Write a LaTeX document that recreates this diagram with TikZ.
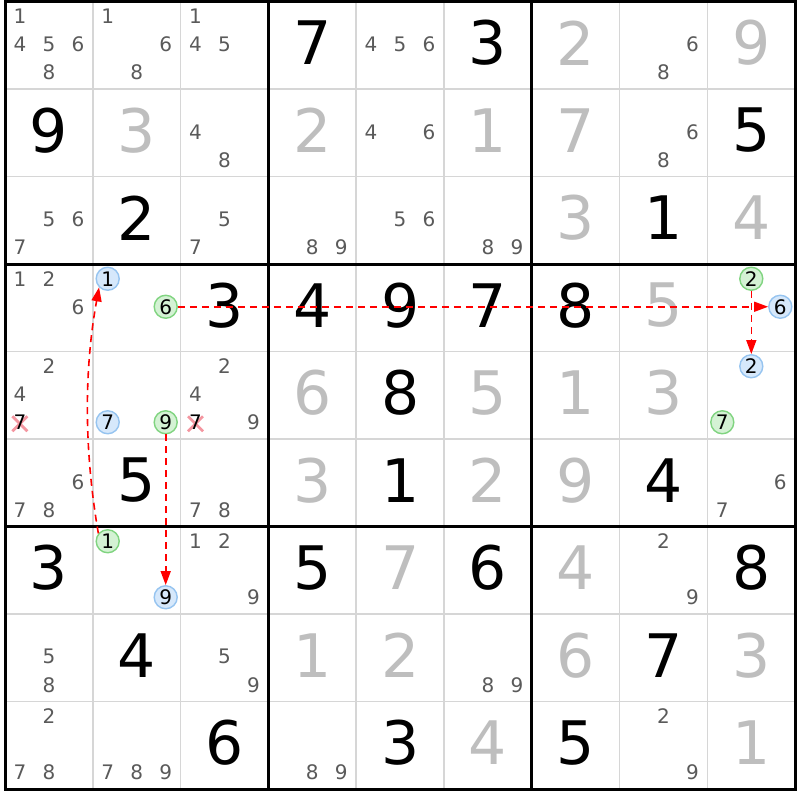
\documentclass[tikz,border=0pt]{standalone}
\usepackage{fontspec}
\setmainfont{DejaVu Sans}
\usetikzlibrary{arrows.meta}
\definecolor{candgray}{RGB}{90,90,90}
\definecolor{solgray}{RGB}{190,190,190}
\definecolor{thingrid}{RGB}{214,214,214}
\definecolor{bluefill}{RGB}{214,232,251}
\definecolor{bluedraw}{RGB}{150,196,240}
\definecolor{greenfill}{RGB}{212,242,212}
\definecolor{greendraw}{RGB}{128,212,128}
\definecolor{xred}{RGB}{244,150,160}
\definecolor{linkred}{RGB}{255,0,0}
\tikzset{
  givdig/.style={inner sep=0pt, font=\fontsize{60}{60}\selectfont, text=black},
  soldig/.style={givdig, text=solgray},
  canddig/.style={inner sep=0pt, font=\fontsize{20}{20}\selectfont, text=candgray},
  bcirc/.style={circle, draw=bluedraw, fill=bluefill, line width=1.4pt, minimum size=23pt, inner sep=0pt, font=\fontsize{20}{20}\selectfont, text=black},
  gcirc/.style={bcirc, draw=greendraw, fill=greenfill},
  link/.style={draw=linkred, line width=1.6pt, dash pattern=on 7pt off 5pt, -{Triangle[length=14pt,width=10pt,fill=linkred]}},
  xmark/.style={xred, line width=2.8pt},
  thinline/.style={thingrid, line width=1.6pt},
  thickline/.style={black, line width=3pt},
}
\newcommand\Giv[3]{\node[givdig] (g#1#2) at ({5+87.8*(#2-0.5)},{1.5+87.5*(#1-0.5)-2.5}) {#3};}
\newcommand\Sol[3]{\node[soldig] (g#1#2) at ({5+87.8*(#2-0.5)},{1.5+87.5*(#1-0.5)-2.5}) {#3};}
\newcommand\Cands[3]{\foreach \d in {#3} {\node[canddig] (c#1#2\d) at ({5+87.8*(#2-0.5)+29*(mod(\d-1,3)-1)},{1.5+87.5*(#1-0.5)-1+28*(floor((\d-1)/3)-1)}) {\d};}}
\newcommand\Circ[5]{\node[#5] (#1) at ({5+87.8*(#3-0.5)+29*(mod(#4-1,3)-1)},{1.5+87.5*(#2-0.5)-1+28*(floor((#4-1)/3)-1)}) {#4};}
\newcommand\Crossed[2]{\coordinate (x#1#2) at ({5+87.8*(#2-0.5)-29},{1.5+87.5*(#1-0.5)-1+28+1.5});
  \draw[xmark] ([shift={(-7.5,-7.5)}]x#1#2) -- ([shift={(7.5,7.5)}]x#1#2);
  \draw[xmark] ([shift={(7.5,-7.5)}]x#1#2) -- ([shift={(-7.5,7.5)}]x#1#2);
  \node[canddig, text=black] (c#1#27) at ({5+87.8*(#2-0.5)-29},{1.5+87.5*(#1-0.5)-1+28}) {7};}
\begin{document}
\begin{tikzpicture}[x=1pt,y=-1pt]
\useasboundingbox (0,0) rectangle (800,800);
\fill[white] (0,0) rectangle (800,800);
% thin grid lines
\foreach \i in {1,2,4,5,7,8} {
  \draw[thinline] ({5+87.8*\i},1.5) -- ({5+87.8*\i},789);
  \draw[thinline] (5,{1.5+87.5*\i}) -- (795.2,{1.5+87.5*\i});
}
% thick lines
\foreach \i in {3,6} {
  \draw[thickline] ({5+87.8*\i},1.5) -- ({5+87.8*\i},789);
  \draw[thickline] (5,{1.5+87.5*\i}) -- (795.2,{1.5+87.5*\i});
}
\draw[thickline] (5,1.5) rectangle (795.2,789);
% row 1
\Cands{1}{1}{1,4,5,6,8} \Cands{1}{2}{1,6,8} \Cands{1}{3}{1,4,5} \Giv{1}{4}{7}
\Cands{1}{5}{4,5,6} \Giv{1}{6}{3} \Sol{1}{7}{2} \Cands{1}{8}{6,8} \Sol{1}{9}{9}
% row 2
\Giv{2}{1}{9} \Sol{2}{2}{3} \Cands{2}{3}{4,8} \Sol{2}{4}{2} \Cands{2}{5}{4,6}
\Sol{2}{6}{1} \Sol{2}{7}{7} \Cands{2}{8}{6,8} \Giv{2}{9}{5}
% row 3
\Cands{3}{1}{5,6,7} \Giv{3}{2}{2} \Cands{3}{3}{5,7} \Cands{3}{4}{8,9} \Cands{3}{5}{5,6}
\Cands{3}{6}{8,9} \Sol{3}{7}{3} \Giv{3}{8}{1} \Sol{3}{9}{4}
% row 4
\Cands{4}{1}{1,2,6} \Giv{4}{3}{3} \Giv{4}{4}{4} \Giv{4}{5}{9} \Giv{4}{6}{7} \Giv{4}{7}{8} \Sol{4}{8}{5}
% row 5
\Cands{5}{1}{2,4} \Cands{5}{3}{2,4,9} \Sol{5}{4}{6} \Giv{5}{5}{8} \Sol{5}{6}{5} \Sol{5}{7}{1} \Sol{5}{8}{3}
\Crossed{5}{1} \Crossed{5}{3}
% row 6
\Cands{6}{1}{6,7,8} \Giv{6}{2}{5} \Cands{6}{3}{7,8} \Sol{6}{4}{3} \Giv{6}{5}{1}
\Sol{6}{6}{2} \Sol{6}{7}{9} \Giv{6}{8}{4} \Cands{6}{9}{6,7}
% row 7
\Giv{7}{1}{3} \Cands{7}{3}{1,2,9} \Giv{7}{4}{5} \Sol{7}{5}{7} \Giv{7}{6}{6}
\Sol{7}{7}{4} \Cands{7}{8}{2,9} \Giv{7}{9}{8}
% row 8
\Cands{8}{1}{5,8} \Giv{8}{2}{4} \Cands{8}{3}{5,9} \Sol{8}{4}{1} \Sol{8}{5}{2}
\Cands{8}{6}{8,9} \Sol{8}{7}{6} \Giv{8}{8}{7} \Sol{8}{9}{3}
% row 9
\Cands{9}{1}{2,7,8} \Cands{9}{2}{7,8,9} \Giv{9}{3}{6} \Cands{9}{4}{8,9} \Giv{9}{5}{3}
\Sol{9}{6}{4} \Giv{9}{7}{5} \Cands{9}{8}{2,9} \Sol{9}{9}{1}
% highlighted candidates
\Circ{bA}{4}{2}{1}{bcirc}
\Circ{gB}{4}{2}{6}{gcirc}
\Circ{gC}{4}{9}{2}{gcirc}
\Circ{bD}{4}{9}{6}{bcirc}
\Circ{bE}{5}{2}{7}{bcirc}
\Circ{gF}{5}{2}{9}{gcirc}
\Circ{bG}{5}{9}{2}{bcirc}
\Circ{gH}{5}{9}{7}{gcirc}
\Circ{gI}{7}{2}{1}{gcirc}
\Circ{bJ}{7}{2}{9}{bcirc}
% links
\draw[link] (gB) -- (bD);
\draw[link] (gC) -- (bG);
\draw[link] (gF) -- (bJ);
\draw[link] (gI.140) .. controls (84,450) and (84,370) .. (bA.225);
\end{tikzpicture}
\end{document}
